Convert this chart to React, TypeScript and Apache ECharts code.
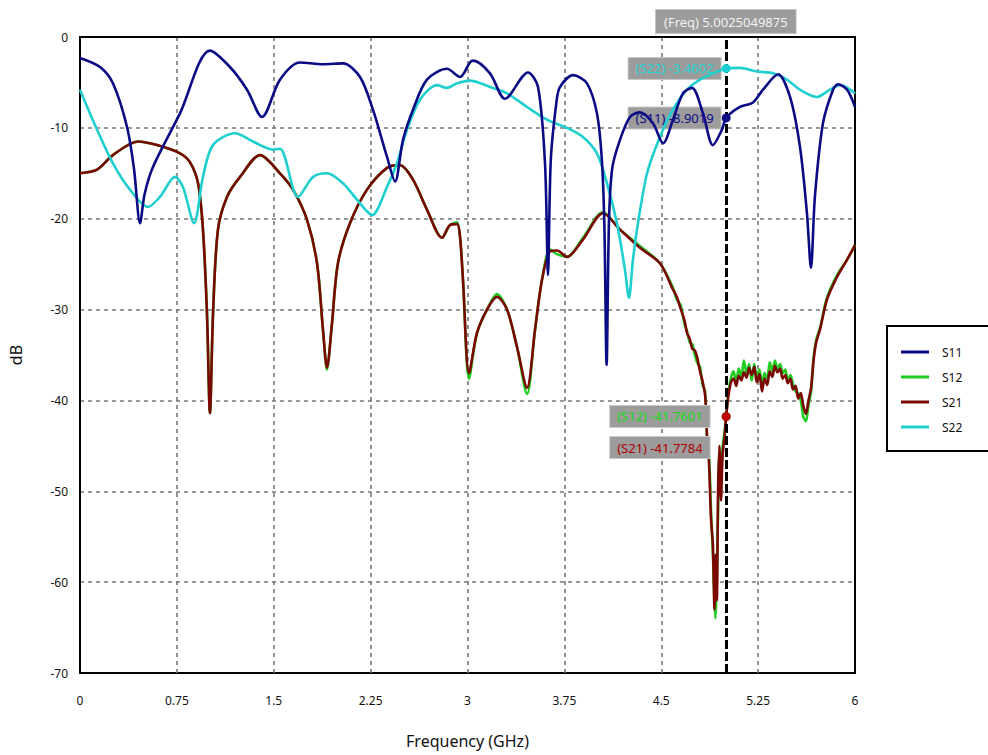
import React, { useEffect, useRef } from "react";
import * as echarts from "echarts";

const seriesNames = ["S11", "S12", "S21", "S22"];
const seriesColors = ["#0b0b85", "#1fcc1f", "#7a0800", "#1fcfcf"];
const markerFreq = 5.0025049875;
const markerValues = [-8.9019, -41.7601, -41.7784, -3.4602];
const yTicks = [0, -10, -20, -30, -40, -50, -60, -70];

const s11: number[][] = [
  [0, -2.3], [0.155, -3.3], [0.255, -5.1], [0.364, -9.9], [0.418, -14.5], [0.465, -20.5], [0.5, -17.3], [0.565, -14.3],
  [0.774, -8.4], [1.006, -1.5], [1.161, -3.3], [1.293, -5.8], [1.409, -8.8], [1.548, -4.7], [1.703, -2.8],
  [1.881, -3.0], [2.036, -2.9], [2.168, -4.4], [2.268, -8.0], [2.377, -13.2], [2.439, -15.9], [2.501, -11.3],
  [2.578, -8.0], [2.686, -4.7], [2.841, -3.5], [2.942, -4.4], [3.019, -2.8], [3.043, -2.6], [3.174, -4.0],
  [3.29, -6.8], [3.468, -3.9], [3.546, -5.5], [3.6, -13.9], [3.623, -26.2], [3.645, -13.5], [3.69, -7.0],
  [3.716, -5.5], [3.817, -4.2], [3.925, -5.1], [4.002, -8.4], [4.04, -13.5], [4.06, -21], [4.077, -36.1],
  [4.095, -20.5], [4.12, -14.5], [4.181, -11.3], [4.258, -8.8], [4.335, -8.3], [4.436, -9.5], [4.514, -11.7],
  [4.591, -9.1], [4.668, -6.2], [4.738, -5.6], [4.823, -8.4], [4.9, -11.9], [4.97, -10.2], [5.0025, -8.9019],
  [5.109, -7.7], [5.21, -7.2], [5.288, -5.8], [5.404, -4.1], [5.497, -6.6], [5.574, -12.1], [5.628, -19.4],
  [5.659, -25.4], [5.69, -17.5], [5.752, -9.5], [5.83, -5.8], [5.869, -5.2], [5.939, -5.8], [6.0, -7.7],
];

const s22: number[][] = [
  [0, -5.8], [0.132, -10.2], [0.255, -13.9], [0.387, -16.8], [0.526, -18.7], [0.619, -17.6], [0.735, -15.4],
  [0.797, -16.5], [0.883, -20.5], [0.952, -15.4], [1.029, -11.9], [1.2, -10.6], [1.339, -11.5], [1.494, -12.4],
  [1.548, -12.3], [1.688, -17.6], [1.804, -15.4], [1.912, -15.0], [2.036, -16.1], [2.144, -17.9], [2.261, -19.6],
  [2.377, -16.5], [2.454, -13.9], [2.532, -10.2], [2.632, -6.9], [2.764, -5.3], [2.841, -5.6], [2.919, -5.1],
  [3.019, -4.8], [3.174, -5.5], [3.306, -6.2], [3.461, -7.7], [3.615, -9.1], [3.77, -10.0], [3.894, -11.0],
  [4.002, -12.8], [4.08, -16.1], [4.157, -20.5], [4.219, -25.6], [4.25, -28.7], [4.281, -24.5], [4.312, -21.2],
  [4.39, -15.0], [4.49, -11.0], [4.591, -8.0], [4.699, -5.8], [4.8, -4.7], [4.9, -4.0], [5.0025, -3.4602],
  [5.109, -3.4], [5.241, -3.8], [5.365, -4.0], [5.473, -4.7], [5.574, -5.8], [5.706, -6.6], [5.806, -5.8],
  [5.884, -5.3], [6.0, -6.2],
];

const s21: number[][] = [
  [0, -15.0], [0.132, -14.6], [0.255, -13.0], [0.449, -11.5], [0.596, -11.9], [0.774, -12.8], [0.852, -13.8],
  [0.914, -16.1], [0.952, -21.2], [0.983, -30.4], [1.006, -41.4], [1.03, -30.4], [1.068, -21.2], [1.138, -17.6],
  [1.239, -15.4], [1.394, -13.0], [1.548, -15.0], [1.649, -16.8], [1.757, -20.1], [1.835, -24.9], [1.881, -32.2],
  [1.912, -36.4], [1.951, -31.5], [1.997, -24.9], [2.09, -20.5], [2.222, -16.8], [2.377, -14.4], [2.477, -14.1],
  [2.578, -15.7], [2.686, -19.0], [2.803, -22.1], [2.864, -20.7], [2.919, -20.6], [2.942, -22.0], [2.965, -26.7],
  [3.012, -37.0], [3.073, -32.6], [3.151, -30.0], [3.228, -28.6], [3.306, -30.0], [3.383, -34.1], [3.461, -38.6],
  [3.523, -32.2], [3.577, -26.7], [3.639, -23.6], [3.693, -23.5], [3.77, -24.2], [3.894, -22.3], [4.049, -19.4],
  [4.181, -21.2], [4.335, -23.2], [4.49, -24.9], [4.591, -27.8], [4.62, -28.6], [4.65, -29.9], [4.68, -31.2],
  [4.7, -32.6], [4.72, -33.2], [4.74, -34.3], [4.76, -34.5], [4.78, -35.4], [4.8, -36.8], [4.82, -37.9],
  [4.84, -39.5], [4.855, -44.0], [4.87, -47.0], [4.885, -53.0], [4.9, -56.0], [4.912, -63.0], [4.92, -57.0],
  [4.93, -62.0], [4.94, -50.0], [4.95, -45.0], [4.962, -51.0], [4.975, -46.0], [4.99, -44.0], [5.0025, -41.7784],
  [5.02, -39.5], [5.04, -38.0], [5.06, -37.6], [5.08, -38.4], [5.1, -37.3], [5.12, -37.8], [5.14, -36.9],
  [5.16, -37.5], [5.18, -36.4], [5.2, -37.2], [5.22, -36.3], [5.24, -38.0], [5.26, -37.1], [5.28, -39.0],
  [5.3, -37.6], [5.32, -38.3], [5.34, -36.8], [5.36, -37.4], [5.38, -36.2], [5.4, -36.9], [5.42, -36.5],
  [5.44, -37.6], [5.46, -37.2], [5.48, -38.1], [5.5, -37.6], [5.52, -38.8], [5.54, -38.4], [5.56, -39.8],
  [5.58, -39.2], [5.6, -40.6], [5.62, -41.5], [5.64, -40.0], [5.66, -38.6], [5.68, -35.5], [5.7, -33.6],
  [5.729, -32.2], [5.783, -28.9], [5.861, -26.4], [5.939, -24.5], [6.0, -22.9],
];

const s12: number[][] = [
  [0, -15.0], [0.132, -14.6], [0.255, -13.0], [0.449, -11.5], [0.596, -11.9], [0.774, -12.8], [0.852, -13.8],
  [0.914, -16.1], [0.952, -21.2], [0.983, -30.4], [1.006, -41.4], [1.03, -30.4], [1.068, -21.2], [1.138, -17.6],
  [1.239, -15.4], [1.394, -13.0], [1.548, -15.0], [1.649, -16.8], [1.757, -20.1], [1.835, -24.9], [1.881, -32.2],
  [1.912, -36.6], [1.951, -31.5], [1.997, -24.9], [2.09, -20.5], [2.222, -16.8], [2.377, -14.4], [2.477, -14.1],
  [2.578, -15.7], [2.686, -19.0], [2.803, -22.1], [2.864, -20.7], [2.919, -20.4], [2.942, -22.0], [2.965, -26.7],
  [3.012, -37.6], [3.073, -32.6], [3.151, -30.0], [3.228, -28.3], [3.306, -30.0], [3.383, -34.1], [3.461, -39.3],
  [3.523, -32.2], [3.577, -26.7], [3.639, -23.4], [3.693, -23.9], [3.77, -24.2], [3.894, -22.1], [4.049, -19.3],
  [4.181, -21.2], [4.335, -23.0], [4.49, -24.9], [4.591, -27.6], [4.62, -28.9], [4.65, -29.5], [4.68, -31.6],
  [4.7, -32.4], [4.72, -33.6], [4.74, -33.8], [4.76, -35.0], [4.78, -35.9], [4.8, -36.3], [4.82, -38.3],
  [4.84, -39.0], [4.855, -44.5], [4.87, -46.0], [4.885, -52.0], [4.9, -57.0], [4.912, -62.0], [4.92, -64.0],
  [4.93, -60.0], [4.94, -52.0], [4.95, -46.0], [4.962, -47.0], [4.975, -45.0], [4.99, -43.5], [5.0025, -41.7601],
  [5.02, -39.0], [5.04, -37.5], [5.06, -36.8], [5.08, -38.0], [5.1, -36.5], [5.12, -37.4], [5.14, -35.6],
  [5.16, -37.0], [5.18, -36.0], [5.2, -37.8], [5.22, -36.0], [5.24, -37.5], [5.26, -36.6], [5.28, -38.2],
  [5.3, -37.0], [5.32, -37.6], [5.34, -35.8], [5.36, -36.8], [5.38, -35.6], [5.4, -36.5], [5.42, -36.0],
  [5.44, -37.0], [5.46, -36.6], [5.48, -37.8], [5.5, -37.2], [5.52, -38.2], [5.54, -39.0], [5.56, -39.2],
  [5.58, -40.0], [5.6, -41.8], [5.62, -42.3], [5.64, -40.5], [5.66, -39.0], [5.68, -35.2], [5.7, -33.3],
  [5.729, -32.0], [5.783, -28.7], [5.861, -26.2], [5.939, -24.5], [6.0, -22.9],
];

const seriesData = [s11, s12, s21, s22];

const FONT = "'Noto Sans', 'Open Sans', sans-serif";

export default function App() {
  const ref = useRef<HTMLDivElement>(null);
  useEffect(() => {
    if (!ref.current) return;
    const chart = echarts.init(ref.current, undefined, { renderer: "svg" });

    const labelOffsets = [[0, 0], [0, 0], [0, 31], [0, 0]];
    const labelDist = [1, 12, 12, 1];
    const labelColors = ["#0b0b85", "#14dc14", "#b00000", "#1fd6d6"];

    const series: any[] = seriesData.map((d, i) => {
      const s: any = {
        name: seriesNames[i],
        type: "line",
        data: d,
        smooth: 0.3,
        showSymbol: false,
        symbol: "none",
        lineStyle: { color: seriesColors[i], width: 2.6 },
        itemStyle: { color: seriesColors[i] },
        z: i === 2 ? 4 : i === 1 ? 3 : i === 3 ? 5 : 6,
        markPoint: {
          symbol: "circle",
          symbolSize: 9,
          silent: true,
          itemStyle: { color: i === 2 ? "#c00000" : seriesColors[i] },
          data: [
            {
              coord: [markerFreq, markerValues[i]],
              label: {
                show: true,
                position: "left",
                distance: labelDist[i],
                offset: labelOffsets[i],
                formatter: `(${seriesNames[i]}) ${markerValues[i].toFixed(4)}`,
                color: labelColors[i],
                fontFamily: FONT,
                fontSize: 13,
                backgroundColor: "#9c9c9c",
                borderColor: "#c8c8c8",
                borderWidth: 1,
                padding: [4, 7, 4, 7],
              },
            },
          ],
        },
      };
      if (i === 0) {
        s.markLine = {
          silent: true,
          symbol: "none",
          lineStyle: { color: "#000", width: 3, type: [9, 3] },
          label: {
            show: true,
            position: "end",
            distance: 4,
            formatter: `(Freq) ${markerFreq}`,
            color: "#f2f2f2",
            fontFamily: FONT,
            fontSize: 13,
            backgroundColor: "#9c9c9c",
            borderColor: "#c8c8c8",
            borderWidth: 1,
            padding: [5, 8, 5, 8],
          },
          data: [{ xAxis: markerFreq }],
        };
      }
      return s;
    });

    const split = {
      show: true,
      showMinLine: false,
      showMaxLine: false,
      lineStyle: { color: "#777", width: 1.6, type: [4, 4] },
    };

    chart.setOption({
      animation: false,
      backgroundColor: "#fff",
      textStyle: { fontFamily: FONT },
      grid: {
        left: 80,
        right: 133,
        top: 37,
        bottom: 82,
        show: true,
        borderColor: "#000",
        borderWidth: 2,
        containLabel: false,
        outerBoundsMode: "none",
      },
      legend: {
        orient: "vertical",
        left: 887,
        top: 326,
        data: seriesNames,
        icon: "rect",
        itemWidth: 28,
        itemHeight: 3,
        itemGap: 13,
        borderColor: "#000",
        borderWidth: 2,
        padding: [20, 60, 18, 14],
        textStyle: { fontFamily: FONT, fontSize: 12, color: "#111", padding: [0, 0, 0, 8] },
      },
      xAxis: {
        type: "value",
        min: 0,
        max: 6,
        interval: 0.75,
        name: "Frequency (GHz)",
        nameLocation: "middle",
        nameGap: 60,
        nameTextStyle: { fontFamily: FONT, fontSize: 16, color: "#111" },
        axisLine: { show: true, lineStyle: { color: "#000", width: 2 } },
        axisTick: { show: false },
        axisLabel: { fontFamily: FONT, fontSize: 12, color: "#111", margin: 21 },
        splitLine: split,
      },
      yAxis: {
        type: "value",
        min: -70,
        max: 0,
        interval: 10,
        name: "dB",
        nameLocation: "middle",
        nameGap: 56,
        nameTextStyle: { fontFamily: FONT, fontSize: 16, color: "#111" },
        axisLine: { show: true, lineStyle: { color: "#000", width: 2 } },
        axisTick: { show: false },
        axisLabel: {
          fontFamily: FONT,
          fontSize: 12,
          color: "#111",
          margin: 12,
          formatter: (v: number) => (yTicks.includes(v) ? String(v) : ""),
        },
        splitLine: split,
      },
      series,
    });
    return () => chart.dispose();
  }, []);
  return (
    <div
      ref={ref}
      style={{ position: "fixed", left: 0, top: 0, width: 988, height: 755, background: "#fff" }}
    />
  );
}
